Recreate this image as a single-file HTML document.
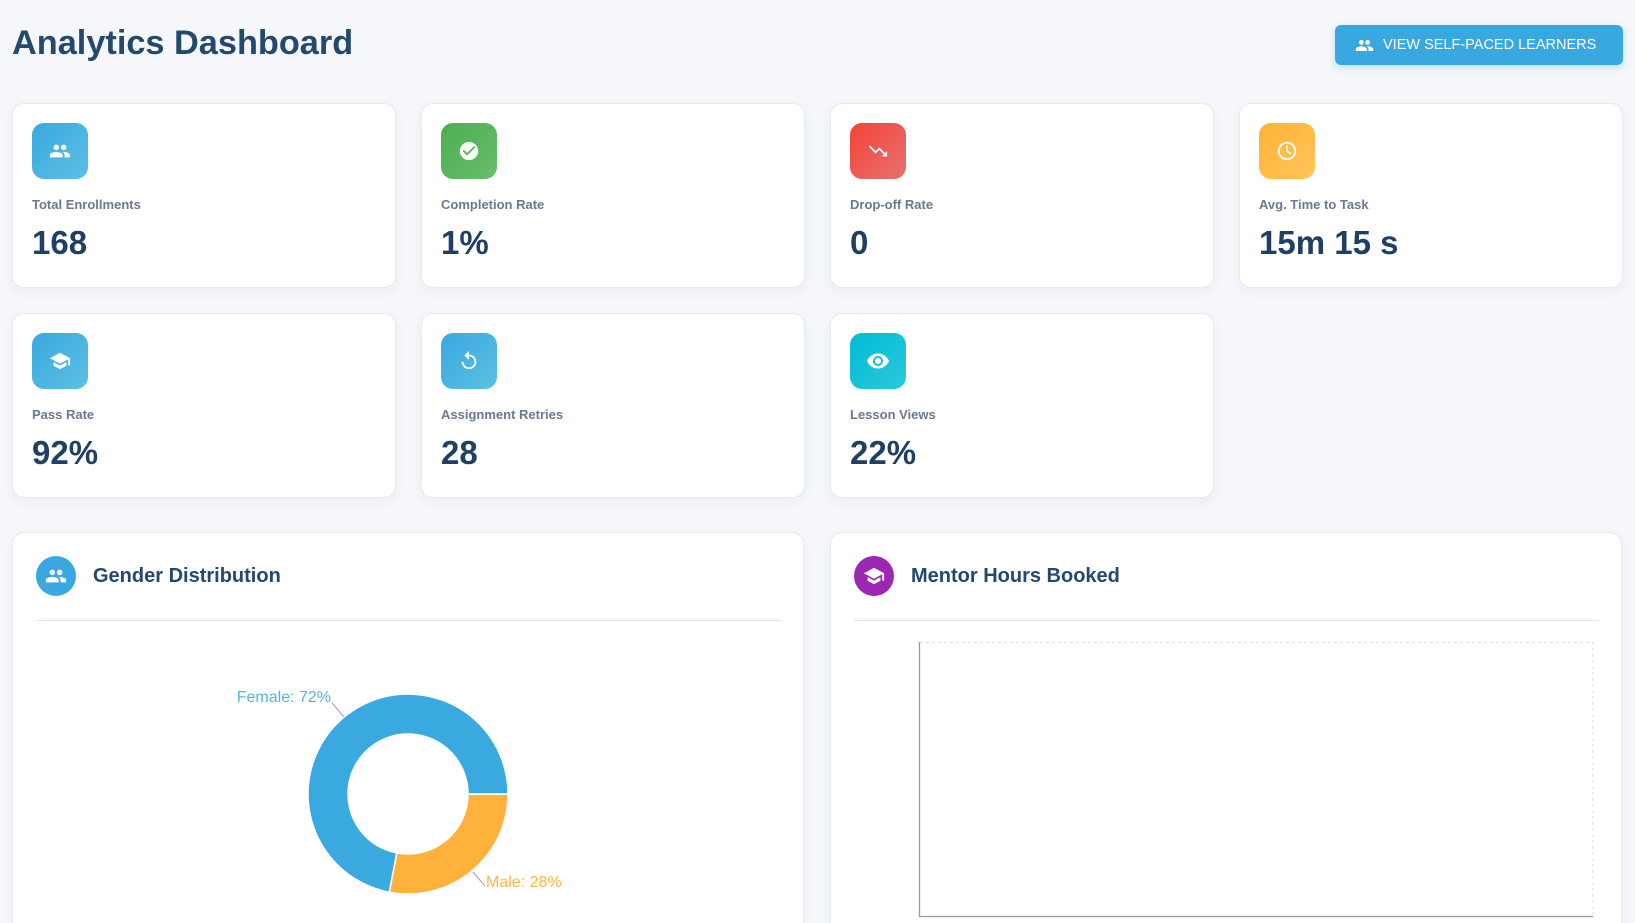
<!DOCTYPE html>
<html><head><meta charset="utf-8">
<style>
*{margin:0;padding:0;box-sizing:border-box}
html,body{width:1635px;height:923px;overflow:hidden;background:#f5f7fa;font-family:"Liberation Sans",Arial,sans-serif}
.title{position:absolute;left:12px;top:21px;font-size:34.3px;font-weight:bold;color:#24496e;line-height:44px;letter-spacing:0}
.btn{position:absolute;left:1335px;top:25px;width:288px;height:40px;background:#3aa8e0;border-radius:6px;box-shadow:0 3px 8px rgba(58,168,224,0.3);color:#fff;font-size:14.5px;line-height:40px}
.btn svg{position:absolute;left:20px;top:11px}
.btn span{position:absolute;left:48px;top:0}
.card{position:absolute;width:384px;height:185px;background:#fff;border:1px solid #e6ebf1;border-radius:12px;box-shadow:0 4px 12px rgba(30,50,80,0.05)}
.ic{position:absolute;left:19px;top:19px;width:56px;height:56px;border-radius:12px;display:flex;align-items:center;justify-content:center}
.lbl{position:absolute;left:19px;top:93px;font-size:13px;font-weight:bold;color:#6b7890;line-height:16px}
.val{position:absolute;left:19px;top:119px;font-size:33px;font-weight:bold;color:#1f3f63;line-height:40px}
.ccard{position:absolute;top:532px;width:792px;height:391px;background:#fff;border:1px solid #e6ebf1;border-bottom:none;border-radius:12px 12px 0 0;box-shadow:0 4px 12px rgba(30,50,80,0.05)}
.cic{position:absolute;left:23px;top:23px;width:40px;height:40px;border-radius:50%;display:flex;align-items:center;justify-content:center}
.ctitle{position:absolute;left:80px;top:31px;font-size:20px;font-weight:bold;color:#24496e;line-height:24px}
.div{position:absolute;left:23px;top:87px;width:745px;height:1px;background:#e2e6ec}
</style></head><body>
<div class="title">Analytics Dashboard</div>
<div class="btn"><svg width="19" height="19" viewBox="0 0 24 24"><path fill="#fff" d="M16 11c1.66 0 2.99-1.34 2.99-3S17.66 5 16 5c-1.66 0-3 1.34-3 3s1.34 3 3 3zm-8 0c1.66 0 2.99-1.34 2.99-3S9.66 5 8 5C6.34 5 5 6.34 5 8s1.34 3 3 3zm0 2c-2.33 0-7 1.17-7 3.5V19h14v-2.5c0-2.33-4.67-3.5-7-3.5zm8 0c-.29 0-.62.02-.97.05 1.16.84 1.97 1.97 1.97 3.45V19h6v-2.5c0-2.33-4.67-3.5-7-3.5z"/></svg><span>VIEW SELF-PACED LEARNERS</span></div>

<!-- Row 1 -->
<div class="card" style="left:12px;top:103px">
 <div class="ic" style="background:linear-gradient(135deg,#3aa8e0,#5bc0e2)"><svg width="22" height="22" viewBox="0 0 24 24"><path fill="#fff" d="M16 11c1.66 0 2.99-1.34 2.99-3S17.66 5 16 5c-1.66 0-3 1.34-3 3s1.34 3 3 3zm-8 0c1.66 0 2.99-1.34 2.99-3S9.66 5 8 5C6.34 5 5 6.34 5 8s1.34 3 3 3zm0 2c-2.33 0-7 1.17-7 3.5V19h14v-2.5c0-2.33-4.67-3.5-7-3.5zm8 0c-.29 0-.62.02-.97.05 1.16.84 1.97 1.97 1.97 3.45V19h6v-2.5c0-2.33-4.67-3.5-7-3.5z"/></svg></div>
 <div class="lbl">Total Enrollments</div><div class="val">168</div>
</div>
<div class="card" style="left:421px;top:103px">
 <div class="ic" style="background:linear-gradient(135deg,#4caf50,#68bd6c)"><svg width="22" height="22" viewBox="0 0 24 24"><path fill="#fff" d="M12 2C6.48 2 2 6.48 2 12s4.48 10 10 10 10-4.48 10-10S17.52 2 12 2zm-2 15l-5-5 1.41-1.41L10 14.17l7.59-7.59L19 8l-9 9z"/></svg></div>
 <div class="lbl">Completion Rate</div><div class="val">1%</div>
</div>
<div class="card" style="left:830px;top:103px">
 <div class="ic" style="background:linear-gradient(135deg,#f44336,#e77070)"><svg width="22" height="22" viewBox="0 0 24 24"><path fill="#fff" d="M16 18l2.29-2.29-4.88-4.88-4 4L2 7.41 3.41 6l6 6 4-4 6.3 6.29L22 12v6z"/></svg></div>
 <div class="lbl">Drop-off Rate</div><div class="val">0</div>
</div>
<div class="card" style="left:1239px;top:103px">
 <div class="ic" style="background:linear-gradient(135deg,#ffb236,#ffc65a)"><svg width="22" height="22" viewBox="0 0 24 24"><circle cx="12" cy="12" r="9" fill="none" stroke="#fff" stroke-width="2"/><path d="M12 7v5.3l3.5 2.2" fill="none" stroke="#fff" stroke-width="2" stroke-linecap="round"/></svg></div>
 <div class="lbl">Avg. Time to Task</div><div class="val">15m 15 s</div>
</div>

<!-- Row 2 -->
<div class="card" style="left:12px;top:313px">
 <div class="ic" style="background:linear-gradient(135deg,#3aa8e0,#5bc0e2)"><svg width="22" height="22" viewBox="0 0 24 24"><path fill="#fff" d="M5 13.18v4L12 21l7-3.82v-4L12 17l-7-3.82zM12 3L1 9l11 6 9-4.91V17h2V9L12 3z"/></svg></div>
 <div class="lbl">Pass Rate</div><div class="val">92%</div>
</div>
<div class="card" style="left:421px;top:313px">
 <div class="ic" style="background:linear-gradient(135deg,#3aa8e0,#5bc0e2)"><svg width="22" height="22" viewBox="0 0 24 24"><path fill="#fff" d="M12 5V1L7 6l5 5V7c3.31 0 6 2.69 6 6s-2.69 6-6 6-6-2.69-6-6H4c0 4.42 3.58 8 8 8s8-3.58 8-8-3.58-8-8-8z"/></svg></div>
 <div class="lbl">Assignment Retries</div><div class="val">28</div>
</div>
<div class="card" style="left:830px;top:313px">
 <div class="ic" style="background:linear-gradient(135deg,#00bcd4,#2cc8dc)"><svg width="24" height="24" viewBox="0 0 24 24"><path fill="#fff" d="M12 4.5C7 4.5 2.73 7.61 1 12c1.73 4.39 6 7.5 11 7.5s9.27-3.11 11-7.5c-1.73-4.39-6-7.5-11-7.5zM12 17c-2.76 0-5-2.24-5-5s2.24-5 5-5 5 2.24 5 5-2.24 5-5 5zm0-8c-1.66 0-3 1.34-3 3s1.34 3 3 3 3-1.34 3-3-1.34-3-3-3z"/></svg></div>
 <div class="lbl">Lesson Views</div><div class="val">22%</div>
</div>

<!-- Gender Distribution -->
<div class="ccard" style="left:12px">
 <div class="cic" style="background:#3aa8e0"><svg width="22" height="22" viewBox="0 0 24 24"><path fill="#fff" d="M16 11c1.66 0 2.99-1.34 2.99-3S17.66 5 16 5c-1.66 0-3 1.34-3 3s1.34 3 3 3zm-8 0c1.66 0 2.99-1.34 2.99-3S9.66 5 8 5C6.34 5 5 6.34 5 8s1.34 3 3 3zm0 2c-2.33 0-7 1.17-7 3.5V19h14v-2.5c0-2.33-4.67-3.5-7-3.5zm8 0c-.29 0-.62.02-.97.05 1.16.84 1.97 1.97 1.97 3.45V19h6v-2.5c0-2.33-4.67-3.5-7-3.5z"/></svg></div>
 <div class="ctitle">Gender Distribution</div>
 <div class="div"></div>
</div>

<!-- Mentor Hours Booked -->
<div class="ccard" style="left:830px">
 <div class="cic" style="background:#9c27b0"><svg width="22" height="22" viewBox="0 0 24 24"><path fill="#fff" d="M5 13.18v4L12 21l7-3.82v-4L12 17l-7-3.82zM12 3L1 9l11 6 9-4.91V17h2V9L12 3z"/></svg></div>
 <div class="ctitle">Mentor Hours Booked</div>
 <div class="div"></div>
</div>

<svg style="position:absolute;left:0;top:0" width="1635" height="923" viewBox="0 0 1635 923">
 <!-- donut -->
 <path d="M508 794 A100 100 0 0 1 389.26 892.23 L396.76 852.94 A60 60 0 0 0 468 794 Z" fill="#feb13b" stroke="#fff" stroke-width="1.5"/>
 <path d="M389.26 892.23 A100 100 0 1 1 508 794 L468 794 A60 60 0 1 0 396.76 852.94 Z" fill="#3aa9e0" stroke="#fff" stroke-width="1.5"/>
 <line x1="344" y1="717" x2="332" y2="703" stroke="#9aa4b0" stroke-width="1"/>
 <line x1="473" y1="872" x2="485" y2="886" stroke="#9aa4b0" stroke-width="1"/>
 <text x="331" y="702" text-anchor="end" font-family="Liberation Sans, sans-serif" font-size="16" fill="#52b4e6">Female: 72%</text>
 <text x="486" y="887" font-family="Liberation Sans, sans-serif" font-size="16" fill="#fdb446">Male: 28%</text>
 <!-- mentor chart axes -->
 <line x1="920" y1="642.5" x2="1593" y2="642.5" stroke="#dfe3e9" stroke-width="1.2" stroke-dasharray="3,3"/>
 <line x1="1593" y1="642" x2="1593" y2="916" stroke="#dfe3e9" stroke-width="1.2" stroke-dasharray="3,3"/>
 <line x1="919.5" y1="642" x2="919.5" y2="917" stroke="#8f9aa8" stroke-width="1.3"/>
 <line x1="919" y1="916.5" x2="1593" y2="916.5" stroke="#8f9aa8" stroke-width="1.3"/>
</svg>
</body></html>
